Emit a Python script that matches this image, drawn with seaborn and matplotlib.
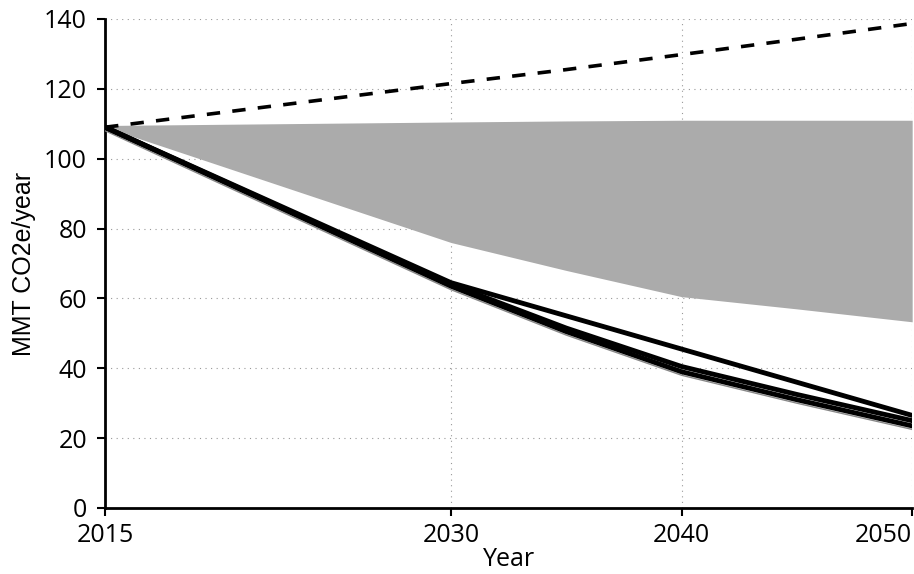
import pandas as pd
import matplotlib
matplotlib.use('Agg')
import matplotlib.pyplot as plt
import seaborn as sns

# values
years = [2015, 2030, 2035, 2040, 2045, 2050]
bau = [109, 121.5, 125.5, 129.8, 134.2, 138.7]
band_top = [109.5, 110.5, 110.8, 111, 111, 111]
band_low = [109, 76, 68, 60.5, 57, 53.3]
path_a = [109, 64.5, 55, 45.5, 36, 26.5]
path_b = [109, 64, 51.5, 40.5, 32.5, 25]
path_c = [109, 63.5, 50.5, 39, 31, 23.5]
path_d = [108, 62.5, 49.5, 38, 30, 22.5]

ytick_vals = [0, 20, 40, 60, 80, 100, 120, 140]
xtick_vals = [2015, 2030, 2040, 2050]

sns.set_style('white')
plt.rcParams['font.family'] = ['Open Sans', 'DejaVu Sans']

fig = plt.figure(figsize=(9.14, 5.74), dpi=100)
ax = fig.add_axes([0.115, 0.115, 0.883, 0.852])

ax.fill_between(years, band_low, band_top, color='#ababab', lw=0, zorder=1)

sns.lineplot(x=years, y=bau, ax=ax, color='black', lw=2.6, linestyle=(0, (3.7, 3.4)), zorder=3)
sns.lineplot(x=years, y=path_d, ax=ax, color='#888888', lw=1.0, zorder=3)
sns.lineplot(x=years, y=path_c, ax=ax, color='black', lw=3.5, zorder=3)
sns.lineplot(x=years, y=path_b, ax=ax, color='black', lw=3.5, zorder=3)
sns.lineplot(x=years, y=path_a, ax=ax, color='black', lw=3.5, zorder=3)

ax.set_xlim(2015, 2050)
ax.set_ylim(0, 140)
ax.set_xticks(xtick_vals)
ax.set_yticks(ytick_vals)
ax.grid(True, color='#999999', linestyle=(0, (1, 4)), lw=0.8, zorder=0)
ax.set_axisbelow(True)

for s in ['top', 'right']:
    ax.spines[s].set_visible(False)
for s in ['left', 'bottom']:
    ax.spines[s].set_color('black')
    ax.spines[s].set_linewidth(2)

ax.tick_params(axis='both', labelsize=18, labelcolor='black', length=6, width=1.5,
               color='black', direction='out', left=True, bottom=True)
ax.tick_params(axis='x', pad=5)
ax.tick_params(axis='y', pad=7)
ax.get_xticklabels()[-1].set_horizontalalignment('right')
ax.set_xlabel('Year', fontsize=18, color='black', labelpad=-1)
ax.set_ylabel('MMT CO2e/year', fontsize=18, color='black', labelpad=6,
              family=['Liberation Sans', 'DejaVu Sans'])

fig.savefig('out.png', dpi=100)
